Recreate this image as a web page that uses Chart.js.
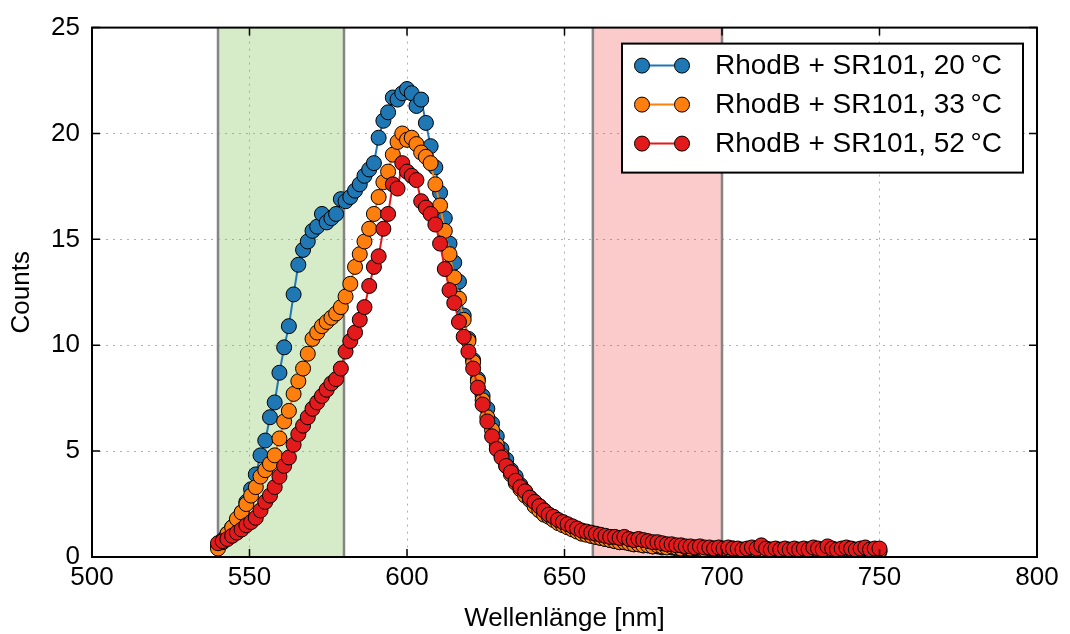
<!DOCTYPE html>
<html lang="de">
<head>
  <meta charset="UTF-8">
  <title>Fluoreszenzspektrum RhodB + SR101</title>
  <script src="https://cdn.jsdelivr.net/npm/chart.js"></script>
  <style>
    body { margin: 0; background: #fff; }
    #wrap { width: 1070px; height: 634px; }
  </style>
</head>
<body>
<div id="wrap"><canvas id="spectrum" width="1070" height="634"></canvas></div>
<script>
  // Wellenlängen in nm (Schrittweite 1.5 nm)
  const wavelength = [
    540, 541.5, 543, 544.5, 546, 547.5, 549, 550.5, 552, 553.5,
    555, 556.5, 558, 559.5, 561, 562.5, 564, 565.5, 567, 568.5,
    570, 571.5, 573, 574.5, 576, 577.5, 579, 580.5, 582, 583.5,
    585, 586.5, 588, 589.5, 591, 592.5, 594, 595.5, 597, 598.5,
    600, 601.5, 603, 604.5, 606, 607.5, 609, 610.5, 612, 613.5,
    615, 616.5, 618, 619.5, 621, 622.5, 624, 625.5, 627, 628.5,
    630, 631.5, 633, 634.5, 636, 637.5, 639, 640.5, 642, 643.5,
    645, 646.5, 648, 649.5, 651, 652.5, 654, 655.5, 657, 658.5,
    660, 661.5, 663, 664.5, 666, 667.5, 669, 670.5, 672, 673.5,
    675, 676.5, 678, 679.5, 681, 682.5, 684, 685.5, 687, 688.5,
    690, 691.5, 693, 694.5, 696, 697.5, 699, 700.5, 702, 703.5,
    705, 706.5, 708, 709.5, 711, 712.5, 714, 715.5, 717, 718.5,
    720, 721.5, 723, 724.5, 726, 727.5, 729, 730.5, 732, 733.5,
    735, 736.5, 738, 739.5, 741, 742.5, 744, 745.5, 747, 748.5,
    750
  ];

  const counts20 = [
    0.5, 0.8, 1.1, 1.4, 1.7, 2.1, 2.6, 3.2, 3.9, 4.8,
    5.5, 6.6, 7.3, 8.7, 9.9, 10.9, 12.4, 13.8, 14.5, 14.9,
    15.4, 15.6, 16.2, 15.8, 16.0, 16.2, 16.9, 16.8, 17.0, 17.3,
    17.6, 18.0, 18.3, 18.6, 19.8, 20.6, 21.0, 21.7, 21.6, 21.9,
    22.1, 21.9, 21.3, 21.6, 20.5, 19.4, 18.4, 17.2, 16.0, 14.8,
    13.9, 13.0, 11.4, 10.3, 9.3, 8.4, 7.6, 7.0, 6.3, 5.7,
    5.1, 4.6, 4.1, 3.8, 3.4, 3.1, 2.8, 2.6, 2.4, 2.2,
    2.0, 1.85, 1.7, 1.55, 1.45, 1.35, 1.25, 1.15, 1.1, 1.0,
    0.95, 0.9, 0.85, 0.8, 0.75, 0.7, 0.7, 0.65, 0.6, 0.6,
    0.55, 0.55, 0.5, 0.5, 0.45, 0.5, 0.45, 0.4, 0.45, 0.4,
    0.4, 0.4, 0.35, 0.4, 0.35, 0.4, 0.35, 0.35, 0.3, 0.35,
    0.35, 0.3, 0.35, 0.3, 0.35, 0.4, 0.3, 0.3, 0.35, 0.3,
    0.3, 0.25, 0.3, 0.3, 0.25, 0.3, 0.3, 0.35, 0.3, 0.25,
    0.3, 0.3, 0.25, 0.3, 0.25, 0.3, 0.25, 0.25, 0.3, 0.25,
    0.25
  ];

  const counts33 = [
    0.4, 0.7, 1.1, 1.4, 1.8, 2.1, 2.5, 2.9, 3.3, 3.8,
    4.1, 4.4, 4.8, 5.6, 6.4, 6.9, 7.7, 8.3, 8.9, 9.6,
    10.3, 10.6, 10.9, 11.1, 11.3, 11.5, 11.8, 12.3, 12.9, 13.7,
    14.3, 14.9, 15.5, 16.2, 17.0, 17.7, 18.2, 19.0, 19.6, 20.0,
    19.7, 19.8, 19.5, 19.1, 18.9, 18.6, 17.6, 16.6, 15.4, 14.3,
    13.2, 12.2, 11.2, 10.2, 9.2, 8.3, 7.4, 6.6, 6.0, 5.3,
    4.8, 4.3, 3.9, 3.5, 3.2, 2.9, 2.7, 2.4, 2.2, 2.0,
    1.9, 1.75, 1.6, 1.5, 1.4, 1.3, 1.2, 1.1, 1.05, 1.0,
    0.95, 0.9, 0.85, 0.8, 0.75, 0.7, 0.7, 0.65, 0.6, 0.6,
    0.55, 0.55, 0.5, 0.55, 0.5, 0.45, 0.5, 0.45, 0.4, 0.45,
    0.4, 0.45, 0.4, 0.35, 0.4, 0.35, 0.4, 0.35, 0.35, 0.4,
    0.35, 0.3, 0.35, 0.35, 0.3, 0.35, 0.3, 0.35, 0.3, 0.3,
    0.35, 0.3, 0.3, 0.25, 0.3, 0.35, 0.3, 0.3, 0.25, 0.3,
    0.3, 0.25, 0.3, 0.3, 0.35, 0.3, 0.25, 0.3, 0.3, 0.25,
    0.3
  ];

  const counts52 = [
    0.65, 0.75, 0.85, 1.0, 1.15, 1.3, 1.5, 1.65, 1.85, 2.2,
    2.6, 2.9, 3.3, 3.8, 4.3, 4.7, 5.3, 5.8, 6.2, 6.6,
    7.0, 7.3, 7.6, 7.9, 8.2, 8.4, 8.9, 9.7, 10.2, 10.6,
    11.2, 11.8, 12.8, 13.7, 14.2, 15.5, 16.2, 17.6, 17.4, 18.6,
    18.2, 18.0, 17.8, 16.8, 16.5, 16.2, 15.7, 14.8, 13.6, 12.6,
    12.0, 11.1, 10.4, 9.7, 8.9, 8.0, 7.2, 6.4, 5.7, 5.1,
    4.7, 4.3, 4.0, 3.6, 3.3, 3.1, 2.8, 2.6, 2.4, 2.2,
    2.0, 1.9, 1.75, 1.65, 1.55, 1.45, 1.35, 1.25, 1.2, 1.15,
    1.1, 1.05, 1.0, 0.95, 0.95, 0.9, 0.95, 0.85, 0.8, 0.85,
    0.8, 0.75, 0.7, 0.7, 0.65, 0.6, 0.6, 0.55, 0.55, 0.5,
    0.5, 0.45, 0.5, 0.45, 0.45, 0.4, 0.45, 0.4, 0.45, 0.4,
    0.4, 0.35, 0.4, 0.45, 0.4, 0.55, 0.4, 0.35, 0.4, 0.35,
    0.4, 0.35, 0.4, 0.35, 0.4, 0.35, 0.45, 0.4, 0.35, 0.5,
    0.4, 0.35, 0.4, 0.45, 0.4, 0.35, 0.4, 0.45, 0.35, 0.4,
    0.4
  ];

  const seriesLabels = [
    'RhodB + SR101, 20\u2009°C',
    'RhodB + SR101, 33\u2009°C',
    'RhodB + SR101, 52\u2009°C'
  ];
  const seriesColors = ['#1f77b4', '#ff7f0e', '#e31a1c'];

  // Filterbereiche in nm
  const bandStart = [540, 659];
  const bandEnd = [580, 700];
  const bandColors = ['rgba(120, 190, 70, 0.30)', 'rgba(240, 60, 60, 0.27)'];

  const FONT = '"Liberation Sans", Arial, sans-serif';

  function toPoints(values) {
    return wavelength.map((x, i) => ({ x: x, y: values[i] }));
  }

  const allCounts = [counts20, counts33, counts52];

  // shaded filter bands, under the data
  const bandsPlugin = {
    id: 'bands',
    beforeDatasetsDraw(chart) {
      const { ctx, chartArea, scales } = chart;
      ctx.save();
      for (let i = 0; i < bandStart.length; i++) {
        const x0 = scales.x.getPixelForValue(bandStart[i]);
        const x1 = scales.x.getPixelForValue(bandEnd[i]);
        ctx.fillStyle = bandColors[i];
        ctx.fillRect(x0, chartArea.top, x1 - x0, chartArea.bottom - chartArea.top);
        ctx.strokeStyle = '#858585';
        ctx.lineWidth = 2.5;
        ctx.beginPath();
        ctx.moveTo(x0, chartArea.top); ctx.lineTo(x0, chartArea.bottom);
        ctx.moveTo(x1, chartArea.top); ctx.lineTo(x1, chartArea.bottom);
        ctx.stroke();
      }
      ctx.restore();
    }
  };

  // frame, inward ticks on all sides, legend box
  const framePlugin = {
    id: 'frame',
    afterDraw(chart) {
      const { ctx, chartArea: a, scales } = chart;
      ctx.save();
      ctx.strokeStyle = '#000';
      ctx.lineWidth = 1.5;
      ctx.beginPath();
      scales.x.ticks.forEach(t => {
        const px = scales.x.getPixelForValue(t.value);
        ctx.moveTo(px, a.bottom); ctx.lineTo(px, a.bottom - 8);
        ctx.moveTo(px, a.top); ctx.lineTo(px, a.top + 8);
      });
      scales.y.ticks.forEach(t => {
        const py = scales.y.getPixelForValue(t.value);
        ctx.moveTo(a.left, py); ctx.lineTo(a.left + 8, py);
        ctx.moveTo(a.right, py); ctx.lineTo(a.right - 8, py);
      });
      ctx.stroke();
      ctx.lineWidth = 2;
      ctx.strokeRect(a.left, a.top, a.right - a.left, a.bottom - a.top);

      // legend
      const bx = a.right - 415, by = a.top + 16, bw = 401, bh = 129;
      ctx.fillStyle = '#fff';
      ctx.fillRect(bx, by, bw, bh);
      ctx.lineWidth = 2;
      ctx.strokeRect(bx, by, bw, bh);
      ctx.font = '28px ' + FONT;
      ctx.textBaseline = 'middle';
      for (let i = 0; i < seriesLabels.length; i++) {
        const ry = by + 22 + i * 39;
        const m0 = bx + 20, m1 = bx + 60;
        ctx.strokeStyle = seriesColors[i];
        ctx.lineWidth = 2;
        ctx.beginPath();
        ctx.moveTo(m0, ry); ctx.lineTo(m1, ry);
        ctx.stroke();
        [m0, m1].forEach(mx => {
          ctx.beginPath();
          ctx.arc(mx, ry, 7.5, 0, Math.PI * 2);
          ctx.fillStyle = seriesColors[i];
          ctx.fill();
          ctx.strokeStyle = '#000';
          ctx.lineWidth = 1;
          ctx.stroke();
        });
        ctx.fillStyle = '#000';
        ctx.fillText(seriesLabels[i], bx + 93, ry + 1);
      }
      ctx.restore();
    }
  };

  const datasets = allCounts.map((vals, i) => ({
    label: seriesLabels[i],
    data: toPoints(vals),
    borderColor: seriesColors[i],
    backgroundColor: seriesColors[i],
    borderWidth: 2,
    pointRadius: 7.5,
    pointBackgroundColor: seriesColors[i],
    pointBorderColor: '#000',
    pointBorderWidth: 1,
    tension: 0,
    order: 3 - i
  }));

  new Chart(document.getElementById('spectrum'), {
    type: 'line',
    data: { datasets: datasets },
    options: {
      responsive: false,
      animation: false,
      layout: { padding: { top: 22, right: 33, left: 0, bottom: 0 } },
      plugins: {
        legend: { display: false },
        tooltip: { enabled: false }
      },
      scales: {
        x: {
          type: 'linear',
          min: 500,
          max: 800,
          afterFit(scale) { scale.height = 77; },
          ticks: { stepSize: 50, color: '#000', padding: 5, font: { family: FONT, size: 26 } },
          grid: { color: '#b0b0b0', drawTicks: false },
          border: { display: false, dash: [2, 5] },
          title: {
            display: true,
            text: 'Wellenlänge [nm]',
            color: '#000',
            font: { family: FONT, size: 26 },
            padding: { top: 6, bottom: 0 }
          }
        },
        y: {
          min: 0,
          max: 25,
          afterFit(scale) { scale.width = 92; },
          ticks: { stepSize: 5, color: '#000', padding: 12, font: { family: FONT, size: 26 } },
          grid: { color: '#b0b0b0', drawTicks: false },
          border: { display: false, dash: [2, 5] },
          title: {
            display: true,
            text: 'Counts',
            color: '#000',
            font: { family: FONT, size: 26 },
            padding: { top: 6, bottom: 0 }
          }
        }
      }
    },
    plugins: [bandsPlugin, framePlugin]
  });
</script>
</body>
</html>
